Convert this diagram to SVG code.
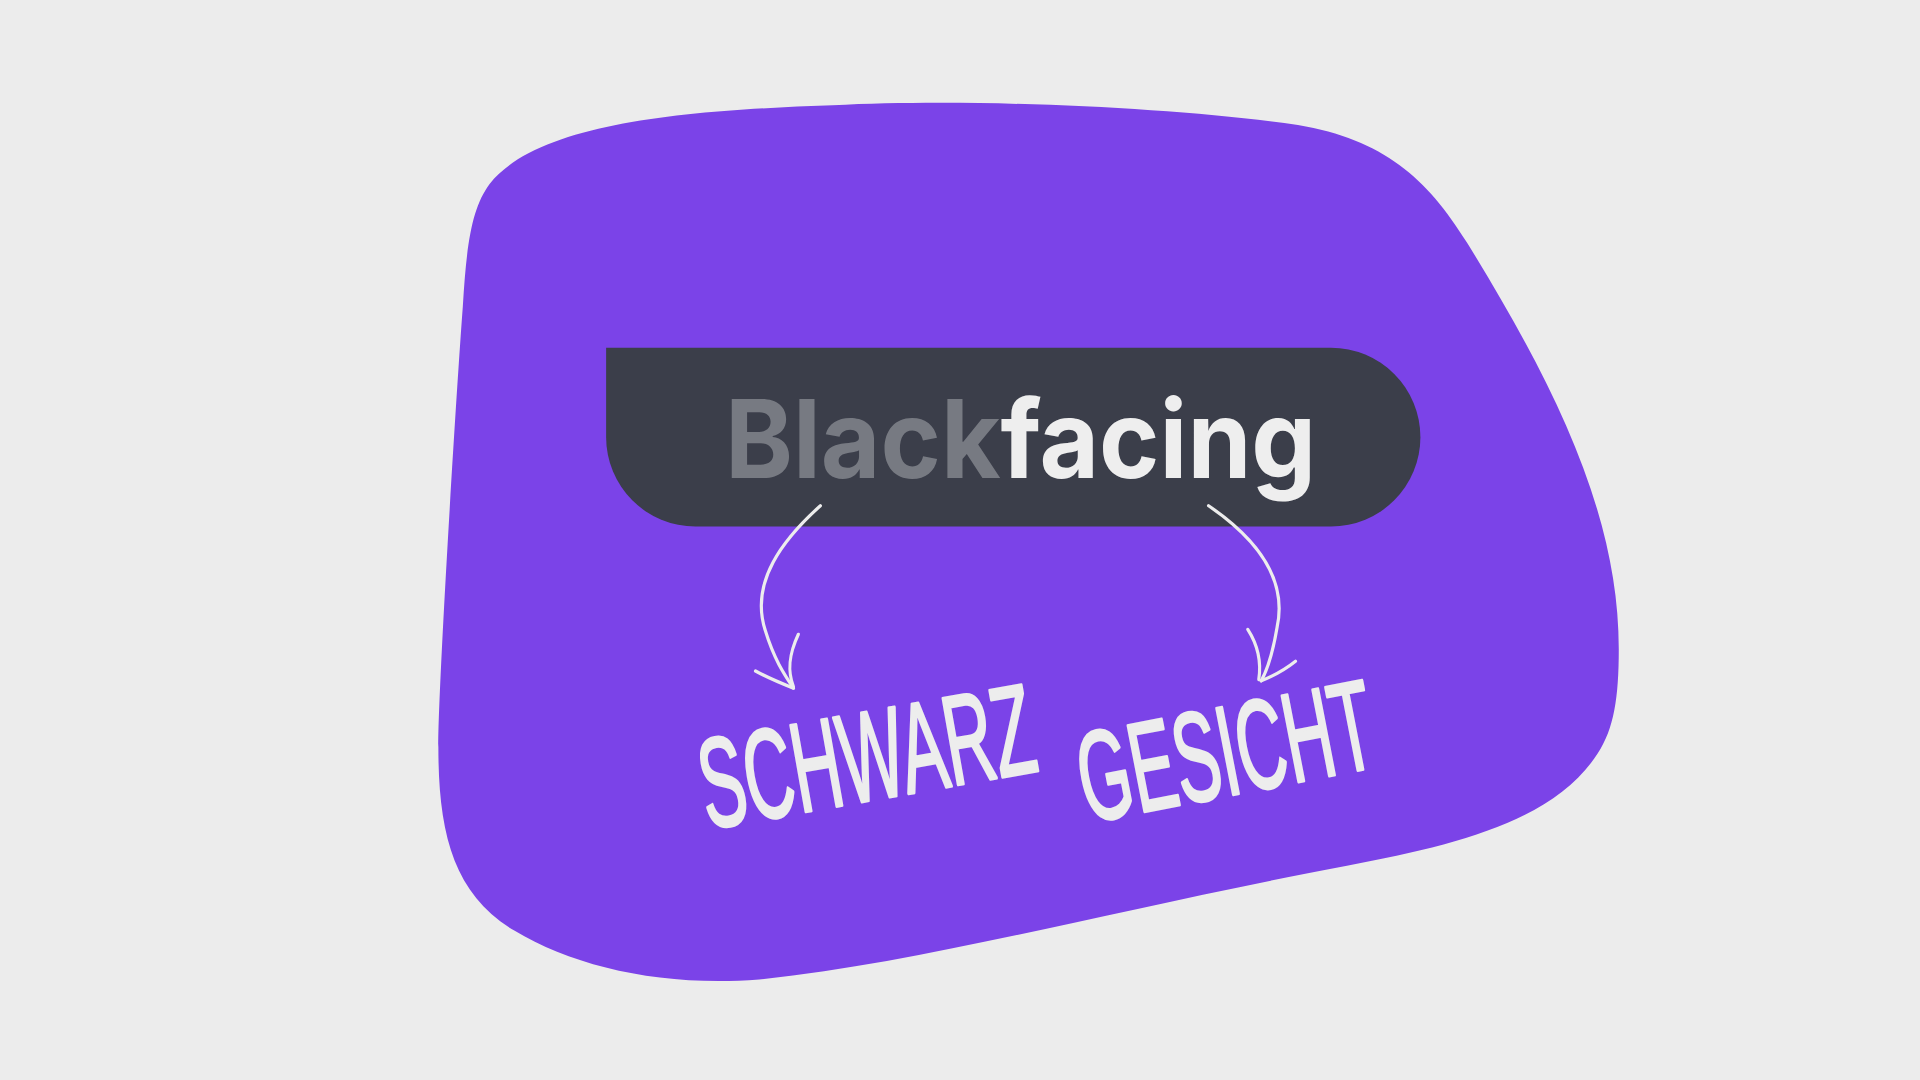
<svg xmlns="http://www.w3.org/2000/svg" width="1920" height="1080" viewBox="0 0 1920 1080">
<defs>
<style>
.hand{font-family:"Liberation Sans","DejaVu Sans",sans-serif;font-size:104px;fill:#EDEDED;stroke:#EDEDED;stroke-width:2.6px;stroke-linejoin:round}
.conn{fill:none;stroke:#EDEDED;stroke-width:2.6;stroke-linecap:round;stroke-linejoin:round}
</style>
</defs>
<rect width="1920" height="1080" fill="#ECECEC"/>
<g transform="scale(1.22449)">
<g id="blob">
<path d="M400,150 C440,100 560,90 680,86 C800,80 960,88 1060,102 C1130,114 1165,145 1198,198 C1270,315 1322,420 1322,530 C1322,570 1318,595 1305,615 C1270,670 1190,690 1100,707 C900,745 760,785 620,800 C540,806 470,790 420,760 C370,730 358,680 358,610 C358,560 372,330 378,250 C381,200 385,170 400,150 Z" fill="#7B43E8"/>
</g>
<g id="node-blackfacing">
<path d="M495,284 H1087 A73,73 0 0 1 1087,430 H568 A73,73 0 0 1 495,357 Z" fill="#3B3E4A"/>
<text x="592" y="390" font-family="Inter,'Liberation Sans',sans-serif" font-weight="700" font-size="89" textLength="483" lengthAdjust="spacingAndGlyphs"><tspan fill="#777A82">Black</tspan><tspan fill="#EEEEEE">facing</tspan></text>
</g>
<g id="connectors">
<path class="conn" d="M670,413 C640,440 612,475 625,515 C632,538 640,550 648,562"/>
<path class="conn" d="M617,548 C628,554 638,558 648,562"/>
<path class="conn" d="M652,518 C644,535 643,548 648,561"/>
<path class="conn" d="M987,413 C1022,437 1052,470 1043,512 C1040,530 1036,545 1030,556"/>
<path class="conn" d="M1019,514 C1028,528 1030,542 1028,555"/>
<path class="conn" d="M1058,540 C1048,548 1040,552 1030,556"/>
</g>
<g id="node-schwarz">
<text class="hand" x="578" y="677" transform="rotate(-10 578 677)" textLength="276" lengthAdjust="spacingAndGlyphs">SCHWARZ</text>
</g>
<g id="node-gesicht">
<text class="hand" x="888" y="672" transform="rotate(-11 888 672)" textLength="244" lengthAdjust="spacingAndGlyphs">GESICHT</text>
</g>
</g>
</svg>
